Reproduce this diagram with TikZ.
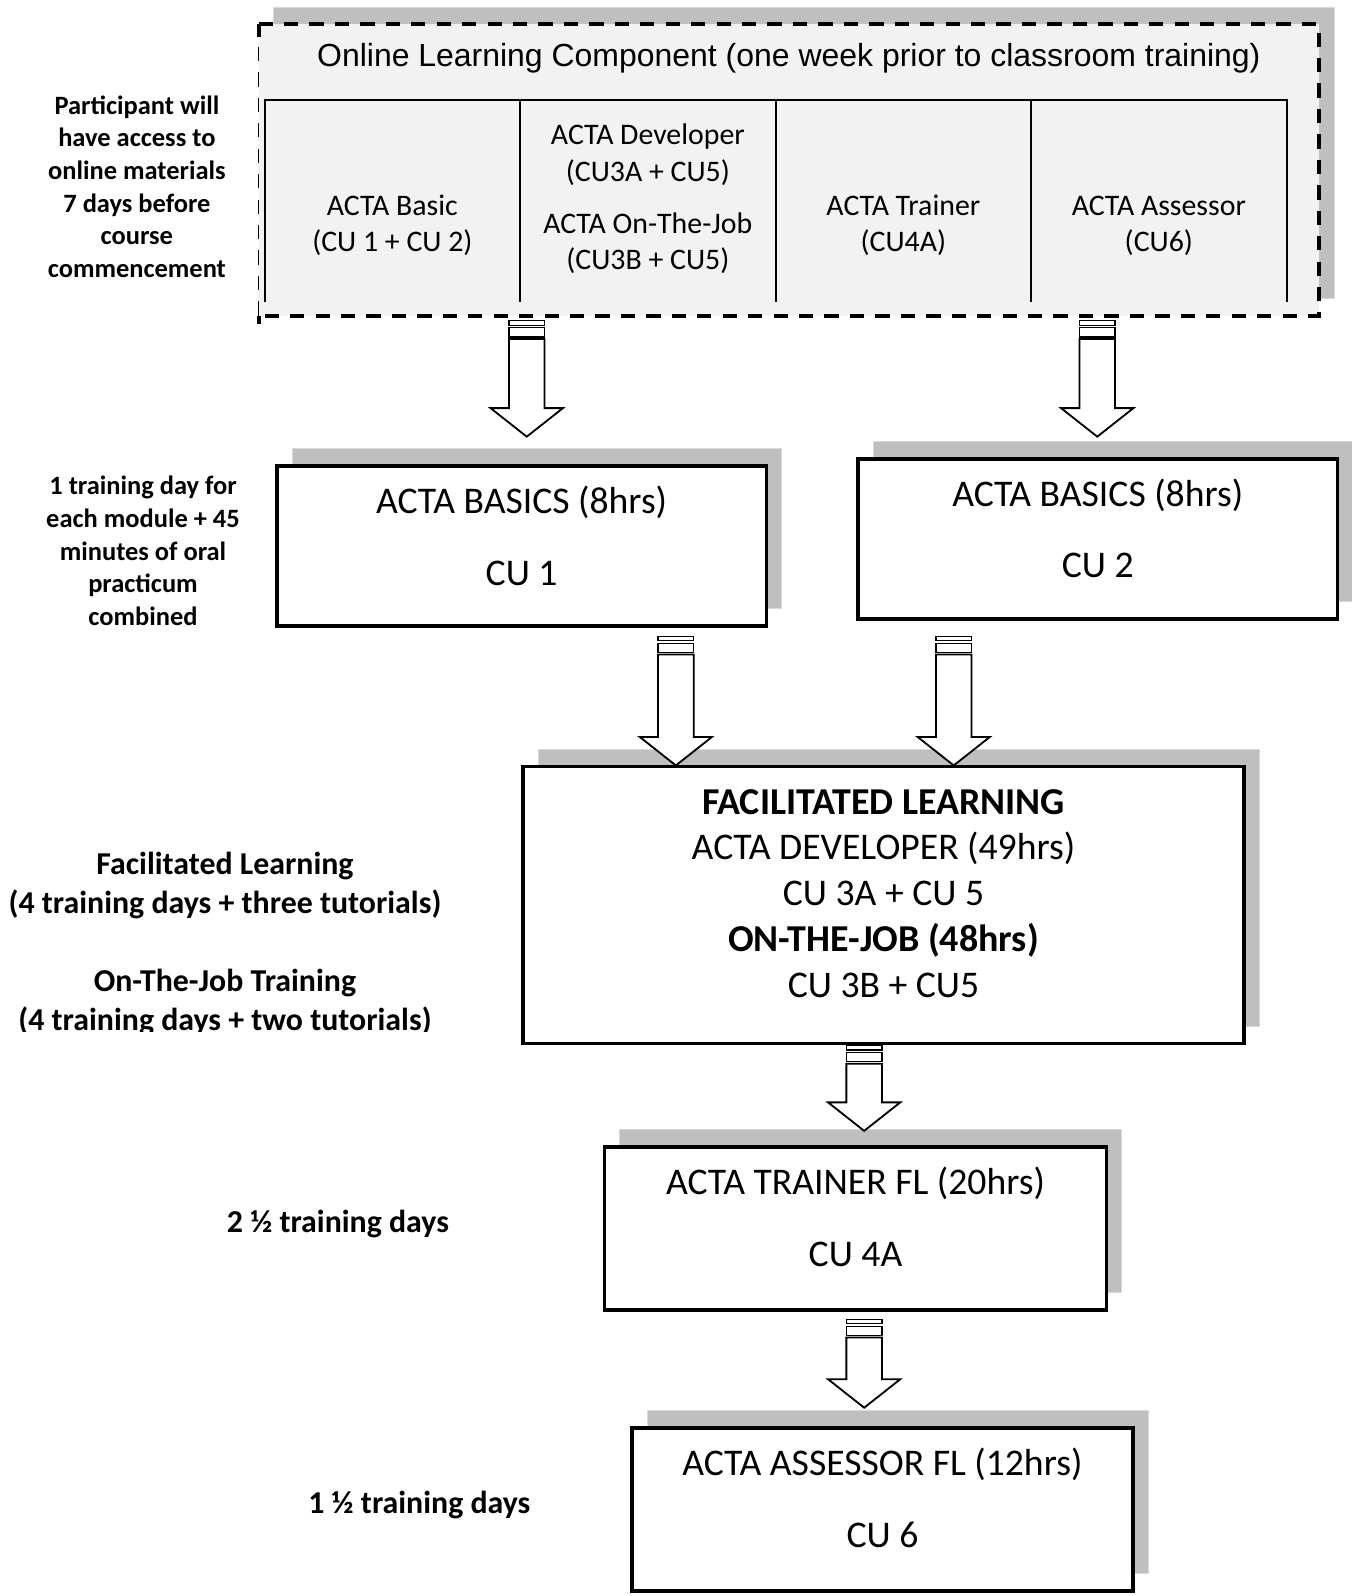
\documentclass[tikz,border=0pt]{standalone}
\usepackage{fontspec}
\setmainfont{Carlito}
\newfontfamily\arialf{Liberation Sans}
\usetikzlibrary{calc,shadows}
\definecolor{shgray}{HTML}{BFBFBF}
\definecolor{shedge}{HTML}{D9D9D9}
\definecolor{panel}{HTML}{F2F2F2}
\newcommand{\stripedarrow}[2]{%
  \draw[stripeline] let \p1=(#1) in
    (\x1-17.5pt,\y1) rectangle (\x1+17.5pt,\y1-4.5pt)
    (\x1-17.5pt,\y1-7pt) rectangle (\x1+17.5pt,\y1-16pt);
  \draw[arrowline] let \p1=(#1), \p2=(#2) in
    (\x1-17.5pt,\y1-18pt) -- (\x1-17.5pt,\y2+28pt) -- (\x1-35.5pt,\y2+28pt)
    -- (\x1,\y2) -- (\x1+35.5pt,\y2+28pt) -- (\x1+17.5pt,\y2+28pt)
    -- (\x1+17.5pt,\y1-18pt) -- cycle;}
\tikzset{
  boxsh/.style={general shadow={shadow xshift=15pt, shadow yshift=17pt, fill=shgray, draw=shedge, line width=1pt}},
  box/.style={draw=black, line width=3.5pt, fill=white, inner sep=0pt, outer sep=0pt, boxsh},
  arrowline/.style={draw=black, line width=1.8pt, fill=white, line join=miter},
  stripeline/.style={draw=black, line width=1.2pt, fill=white},
  dashline/.style={line width=4pt, dash pattern=on 14pt off 11pt},
  thindash/.style={line width=1.2pt, dash pattern=on 14pt off 11pt},
  tline/.style={line width=2pt},
  boxtxt/.style={anchor=base, font=\fontsize{37}{40}\selectfont, inner sep=0pt},
  boxbold/.style={boxtxt, font=\bfseries\fontsize{37.3}{40}\selectfont},
  coltxt/.style={anchor=base, font=\fontsize{29.3}{33}\selectfont, inner sep=0pt},
  lbl/.style={anchor=base, font=\bfseries\fontsize{26}{30}\selectfont, inner sep=0pt},
  lblb/.style={anchor=base, font=\bfseries\fontsize{31.3}{34}\selectfont, inner sep=0pt},
  titletxt/.style={anchor=base, font=\arialf\fontsize{31.4}{36}\selectfont, inner sep=0pt}
}
\begin{document}
\begin{tikzpicture}[x=1pt,y=-1pt]
\useasboundingbox (0,0) rectangle (1328,1568);
% online learning panel
\node[fill=panel, draw=none, inner sep=0pt, outer sep=0pt, minimum width=1042pt, minimum height=286pt, boxsh] (olc) at (775,167) {};
\draw[dashline] (olc.north west) -- (olc.north east) -- (olc.south east) -- (olc.south west);
\draw[thindash] (olc.south west) -- (olc.north west);
\draw[line width=4pt] (olc.south west) -- ++(0,-8pt) (olc.north west) -- ++(0,-12pt);
\node[titletxt] (title) at (775,65) {Online Learning Component (one week prior to classroom training)};
\draw[tline] (260,297) -- (260,98) -- (1264,98) -- (1264,297);
\draw[tline] (511,98) -- (511,297) (762,98) -- (762,297) (1013,98) -- (1013,297);
\node[coltxt] (c1a) at (385.5,211.3) {ACTA Basic};
\node[coltxt] (c1b) at (385.5,247.3) {(CU 1 + CU 2)};
\node[coltxt] (c2a) at (636.5,142.3) {ACTA Developer};
\node[coltxt] (c2b) at (636.5,178.3) {(CU3A + CU5)};
\node[coltxt] (c2c) at (636.5,229.3) {ACTA On-The-Job};
\node[coltxt] (c2d) at (636.5,264.3) {(CU3B + CU5)};
\node[coltxt] (c3a) at (887.5,211.3) {ACTA Trainer};
\node[coltxt] (c3b) at (887.5,247.3) {(CU4A)};
\node[coltxt] (c4a) at (1138.5,211.3) {ACTA Assessor};
\node[coltxt] (c4b) at (1138.5,247.3) {(CU6)};
% boxes
\node[box, minimum width=481pt, minimum height=157pt] (b1) at (512.5,536.5) {};
\node[boxtxt] (b1a) at (512.5,504.8) {ACTA BASICS (8hrs)};
\node[boxtxt] (b1b) at (512.5,574.8) {CU 1};
\node[box, minimum width=471pt, minimum height=157pt] (b2) at (1078.5,529.5) {};
\node[boxtxt] (b2a) at (1078.5,497.8) {ACTA BASICS (8hrs)};
\node[boxtxt] (b2b) at (1078.5,567.8) {CU 2};
\node[box, minimum width=708pt, minimum height=272pt] (b3) at (868,889) {};
\node[boxbold] (b3a) at (868,799.8) {FACILITATED LEARNING};
\node[boxtxt] (b3b) at (868,844.8) {ACTA DEVELOPER (49hrs)};
\node[boxtxt] (b3c) at (868,889.8) {CU 3A + CU 5};
\node[boxbold] (b3d) at (868,934.8) {ON-THE-JOB (48hrs)};
\node[boxtxt] (b3e) at (868,979.8) {CU 3B + CU5};
\node[box, minimum width=493pt, minimum height=160pt] (b4) at (840.5,1207) {};
\node[boxtxt] (b4a) at (840.5,1173.8) {ACTA TRAINER FL (20hrs)};
\node[boxtxt] (b4b) at (840.5,1243.8) {CU 4A};
\node[box, minimum width=492pt, minimum height=160pt] (b5) at (867,1483) {};
\node[boxtxt] (b5a) at (867,1449.8) {ACTA ASSESSOR FL (12hrs)};
\node[boxtxt] (b5b) at (867,1520.8) {CU 6};
% arrows
\coordinate (a1s) at (517.5,315); \coordinate (a1e) at (517.5,429);
\coordinate (a2s) at (1078,315);  \coordinate (a2e) at (1078,429);
\coordinate (a3s) at (664,625);   \coordinate (a3e) at (664,752);
\coordinate (a4s) at (937,625);   \coordinate (a4e) at (937,752);
\coordinate (a5s) at (849,1027);  \coordinate (a5e) at (849,1111);
\coordinate (a6s) at (849,1296);  \coordinate (a6e) at (849,1383);
\stripedarrow{a1s}{a1e}
\stripedarrow{a2s}{a2e}
\stripedarrow{a3s}{a3e}
\stripedarrow{a4s}{a4e}
\stripedarrow{a5s}{a5e}
\stripedarrow{a6s}{a6e}
% left labels
\foreach \t [count=\i] in {Participant will, have access to, online materials, 7 days before, course, commencement}
  \node[lbl] (pa\i) at (134.5,{112.3+32*(\i-1)}) {\t};
\foreach \t [count=\i] in {1 training day for, each module + 45, minutes of oral, practicum, combined}
  \node[lbl] (tr\i) at (140.5,{486.3+32*(\i-1)}) {\t};
\node[lblb] (fl1) at (221,858.8) {Facilitated Learning};
\node[lblb] (fl2) at (221,897.1) {(4 training days + three tutorials)};
\node[lblb] (oj1) at (221,973.7) {On-The-Job Training};
\begin{scope}
  \clip (0,960) rectangle (500,1013);
  \node[lblb] (oj2) at (221,1012) {(4 training days + two tutorials)};
\end{scope}
\node[lblb] (d1) at (332,1210.8) {2 ½ training days};
\node[lblb] (d2) at (412,1486.8) {1 ½ training days};
\end{tikzpicture}
\end{document}
